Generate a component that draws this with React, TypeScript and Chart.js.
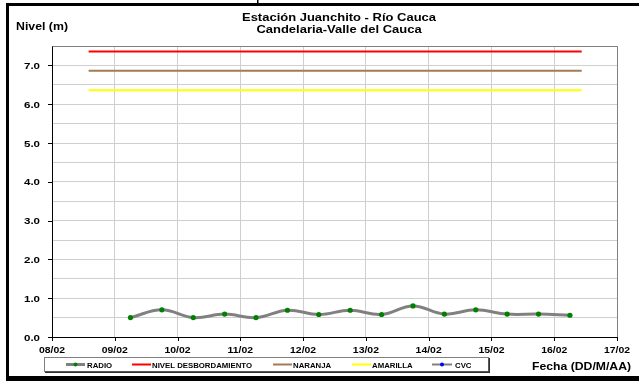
import { useEffect, useRef } from "react";
import { Chart, registerables } from "chart.js";

Chart.register(...registerables);

const titleLines = ["Estación Juanchito - Río Cauca", "Candelaria-Valle del Cauca"];
const yAxisTitle = "Nivel (m)";
const xAxisTitle = "Fecha (DD/M/AA)";
const xTickLabels = ["08/02", "09/02", "10/02", "11/02", "12/02", "13/02", "14/02", "15/02", "16/02", "17/02"];
const yTickLabels = ["0.0", "1.0", "2.0", "3.0", "4.0", "5.0", "6.0", "7.0"];

const radioTimes = [
  "09/02 06:00", "09/02 18:00", "10/02 06:00", "10/02 18:00", "11/02 06:00",
  "11/02 18:00", "12/02 06:00", "12/02 18:00", "13/02 06:00", "13/02 18:00",
  "14/02 06:00", "14/02 18:00", "15/02 06:00", "15/02 18:00", "16/02 06:00",
];
const radioValues = [0.5, 0.7, 0.5, 0.59, 0.5, 0.69, 0.58, 0.69, 0.58, 0.8, 0.59, 0.7, 0.59, 0.59, 0.56];

const thresholdNames = ["NIVEL DESBORDAMIENTO", "NARANJA", "AMARILLA"];
const thresholdValues = [7.36, 6.86, 6.36];
const thresholdSpan = ["08/02 14:00", "16/02 10:30"];

const cvcTimes: string[] = [];
const cvcValues: number[] = [];

const legendNames = ["RADIO", "NIVEL DESBORDAMIENTO", "NARANJA", "AMARILLA", "CVC"];

const COLORS = {
  radio: "#808080",
  radioPoint: "#008000",
  thresholds: ["#ff0000", "#a47b55", "#ffff00"],
  cvc: "#808080",
  cvcPoint: "#0000ff",
};

function toDay(s: string): number {
  const [d, t] = s.split(" ");
  const [dd] = d.split("/");
  const [hh, mi] = t.split(":");
  return (+dd - 8) + (+hh + +mi / 60) / 24;
}

const FONT = '"Liberation Sans", Arial, sans-serif';

function sText(ctx: CanvasRenderingContext2D, text: string, x: number, y: number, size: number, sx: number, align: "left" | "center" | "right") {
  ctx.save();
  ctx.font = `bold ${size}px ${FONT}`;
  ctx.textBaseline = "alphabetic";
  ctx.textAlign = "left";
  ctx.fillStyle = "#000";
  const w = ctx.measureText(text).width * sx;
  const left = align === "center" ? x - w / 2 : align === "right" ? x - w : x;
  ctx.translate(left, y);
  ctx.scale(sx, 1);
  ctx.fillText(text, 0, 0);
  ctx.restore();
}

const decorPlugin = {
  id: "decor",
  afterDraw(chart: any) {
    const ctx: CanvasRenderingContext2D = chart.ctx;
    const area = chart.chartArea;
    const xs = chart.scales.x;
    const ys = chart.scales.y;

    ctx.save();
    // top / right plot border
    ctx.strokeStyle = "#808080";
    ctx.lineWidth = 1;
    ctx.beginPath();
    ctx.moveTo(Math.round(area.left) + 0.5, Math.round(area.top) + 0.5);
    ctx.lineTo(Math.round(area.right) + 0.5, Math.round(area.top) + 0.5);
    ctx.lineTo(Math.round(area.right) + 0.5, Math.round(area.bottom) + 0.5);
    ctx.stroke();

    // tick marks
    ctx.strokeStyle = "#000";
    ctx.beginPath();
    yTickLabels.forEach((_, i) => {
      const py = Math.round(ys.getPixelForValue(i)) + 0.5;
      ctx.moveTo(area.left - 4, py);
      ctx.lineTo(area.left, py);
    });
    xTickLabels.forEach((_, i) => {
      const px = Math.round(xs.getPixelForValue(i)) + 0.5;
      ctx.moveTo(px, area.bottom);
      ctx.lineTo(px, area.bottom + 4);
    });
    ctx.stroke();
    ctx.restore();

    // tick labels
    yTickLabels.forEach((lab, i) => {
      sText(ctx, lab, 40, ys.getPixelForValue(i) + 3.5, 9, 1.28, "right");
    });
    xTickLabels.forEach((lab, i) => {
      sText(ctx, lab, xs.getPixelForValue(i), 352.5, 9, 1.16, "center");
    });

    // titles
    sText(ctx, titleLines[0], 339, 21, 11, 1.18, "center");
    sText(ctx, titleLines[1], 339, 33, 11, 1.18, "center");
    sText(ctx, yAxisTitle, 16, 30, 11, 1.12, "left");
    sText(ctx, xAxisTitle, 532, 369.5, 11, 1.11, "left");

    // frame
    ctx.save();
    ctx.fillStyle = "#000";
    ctx.fillRect(6, 3, 633, 3);
    ctx.fillRect(6, 3, 3, 376);
    ctx.fillRect(6, 376, 633, 5);
    ctx.fillRect(257, 0, 1.5, 3);

    // legend box
    ctx.fillStyle = "#fff";
    ctx.fillRect(44.5, 357.5, 444, 14);
    ctx.strokeStyle = "#808080";
    ctx.lineWidth = 1;
    ctx.strokeRect(44.5, 357.5, 444, 14);
    ctx.fillStyle = "#303030";
    ctx.fillRect(45, 371.5, 445, 1.5);
    ctx.fillRect(488.5, 358, 1.5, 15);

    const ly = 364.5;
    const items = [
      { x0: 66, x1: 85, tx: 87, color: COLORS.radio, w: 3, dot: COLORS.radioPoint },
      { x0: 132, x1: 151, tx: 152, color: COLORS.thresholds[0], w: 2, dot: null },
      { x0: 273, x1: 292, tx: 293, color: COLORS.thresholds[1], w: 2, dot: null },
      { x0: 352, x1: 371, tx: 372, color: COLORS.thresholds[2], w: 2, dot: null },
      { x0: 432, x1: 452, tx: 455, color: COLORS.cvc, w: 2, dot: COLORS.cvcPoint },
    ];
    items.forEach((it, i) => {
      ctx.strokeStyle = it.color;
      ctx.lineWidth = it.w;
      ctx.beginPath();
      ctx.moveTo(it.x0, ly);
      ctx.lineTo(it.x1, ly);
      ctx.stroke();
      if (it.dot) {
        ctx.fillStyle = it.dot;
        ctx.beginPath();
        ctx.arc((it.x0 + it.x1) / 2, ly, 2, 0, Math.PI * 2);
        ctx.fill();
      }
      sText(ctx, legendNames[i], it.tx, 367.5, 6.5, 1.2, "left");
    });
    ctx.restore();
  },
};

export default function App() {
  const ref = useRef<HTMLCanvasElement | null>(null);

  useEffect(() => {
    if (!ref.current) return;
    const spanX = thresholdSpan.map(toDay);
    const datasets: any[] = [
      {
        label: legendNames[0],
        data: radioTimes.map((t, i) => ({ x: toDay(t), y: radioValues[i] })),
        borderColor: COLORS.radio,
        borderWidth: 3,
        tension: 0.4,
        pointRadius: 2.6,
        pointBackgroundColor: COLORS.radioPoint,
        pointBorderColor: COLORS.radioPoint,
        pointBorderWidth: 0,
      },
      ...thresholdNames.map((name, i) => ({
        label: name,
        data: spanX.map((x) => ({ x, y: thresholdValues[i] })),
        borderColor: COLORS.thresholds[i],
        borderWidth: 2,
        pointRadius: 0,
      })),
      {
        label: legendNames[4],
        data: cvcTimes.map((t, i) => ({ x: toDay(t), y: cvcValues[i] })),
        borderColor: COLORS.cvc,
        borderWidth: 2,
        pointRadius: 2,
        pointBackgroundColor: COLORS.cvcPoint,
      },
    ];

    const chart = new Chart(ref.current, {
      type: "line",
      data: { datasets },
      options: {
        responsive: false,
        animation: false,
        devicePixelRatio: 1,
        layout: { padding: { left: 52, top: 46, right: 22, bottom: 44 } },
        plugins: { legend: { display: false }, tooltip: { enabled: false }, title: { display: false } },
        scales: {
          x: {
            type: "linear",
            min: 0,
            max: xTickLabels.length - 1,
            ticks: { stepSize: 1, display: false },
            grid: { color: "#cfcfcf", lineWidth: 1, drawTicks: false },
            border: { display: true, color: "#000", width: 1 },
            afterFit: (s: any) => { s.height = 0; },
          },
          y: {
            type: "linear",
            min: 0,
            max: 7.5,
            ticks: { stepSize: 0.5, display: false },
            grid: { color: "#cfcfcf", lineWidth: 1, drawTicks: false },
            border: { display: true, color: "#000", width: 1 },
            afterFit: (s: any) => { s.width = 0; },
          },
        },
      } as any,
      plugins: [decorPlugin],
    });
    return () => chart.destroy();
  }, []);

  return (
    <div style={{ position: "fixed", left: 0, top: 0, width: 639, height: 381, background: "#fff" }}>
      <canvas ref={ref} width={639} height={381} style={{ display: "block", width: 639, height: 381 }} />
    </div>
  );
}
